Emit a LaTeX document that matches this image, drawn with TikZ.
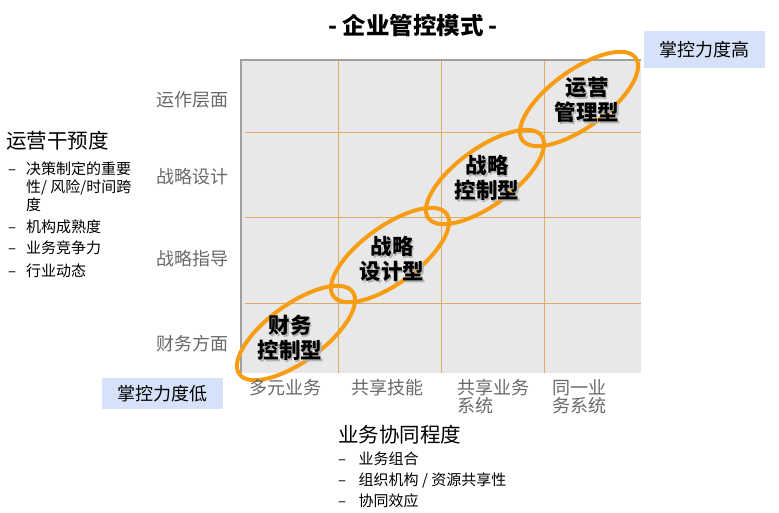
\documentclass[tikz,border=0pt]{standalone}
\usepackage{fontspec}
\setmainfont{Noto Sans CJK SC}
\usetikzlibrary{shapes.geometric, positioning}
\definecolor{ctrlorange}{RGB}{247,157,20}
\definecolor{gridline}{RGB}{218,172,105}
\definecolor{cellgray}{RGB}{232,232,232}
\definecolor{framegray}{RGB}{160,160,160}
\definecolor{labelgray}{RGB}{105,105,105}
\definecolor{tagblue}{RGB}{214,226,249}
\tikzset{phase/.style={draw=ctrlorange, ellipse, line width=4pt, minimum width=140pt, minimum height=57pt, inner sep=0pt, rotate=36},
         mode/.style={font=\fontsize{21.5}{25}\selectfont\bfseries, align=center, inner sep=0pt},
         rowlabel/.style={font=\fontsize{18}{20}\selectfont, text=labelgray, anchor=east, inner sep=0pt},
         collabel/.style={font=\fontsize{18}{18.5}\selectfont, text=labelgray, align=left, inner sep=0pt},
         tag/.style={fill=tagblue, minimum width=121pt, font=\fontsize{18}{20}\selectfont},
         heading/.style={font=\fontsize{20.5}{24}\selectfont, anchor=west, inner sep=0pt},
         bullets/.style={font=\fontsize{15}{16.5}\selectfont, anchor=north west, inner sep=0pt}}

\begin{document}
\begin{tikzpicture}[x=1pt, y=-1pt]
    \useasboundingbox (0,0) rectangle (779,513);
    \node[font=\fontsize{23.5}{26}\selectfont\bfseries] (title) at (413,25) {- 企业管控模式 -};

    % matrix background
    \node[fill=cellgray, minimum width=400pt, minimum height=313pt, inner sep=0pt, anchor=north west] (grid) at (241,60) {};
    \foreach \x in {338,441,544}
        \draw[gridline, line width=0.9pt] (\x,60) -- (\x,373);
    \foreach \y in {132,217,303}
        \draw[gridline, line width=0.9pt] (245,\y) -- (641,\y);
    \draw[framegray, line width=1.5pt] (grid.south west) -- (grid.north west) -- (grid.north east);

    \node[phase] (fin) at (296,333) {};
    \node[phase] (des) at (390,255) {};
    \node[phase] (ctl) at (485,177) {};
    \node[phase] (ops) at (579,99) {};
    % labels with a soft shadow
    \foreach \px/\py/\txt/\nm in {290/338/{财务\\控制型}/fintxt, 392/259/{战略\\设计型}/destxt,
                                  487/178/{战略\\控制型}/ctltxt, 587/100/{运营\\管理型}/opstxt} {
        \node[mode, text=black!30] at (\px+1.5,\py+1.5) {\txt};
        \node[mode] (\nm) at (\px,\py) {\txt};
    }

    \node[rowlabel] (r4) at (229,100) {运作层面};
    \node[rowlabel] (r3) at (229,177) {战略设计};
    \node[rowlabel] (r2) at (229,259) {战略指导};
    \node[rowlabel] (r1) at (229,344) {财务方面};

    \node[collabel] (c1) at (285,388) {多元业务};
    \node[collabel] (c2) at (387,388) {共享技能};
    \node[collabel, anchor=north west] (c3) at (457,379) {共享业务\\系统};
    \node[collabel, anchor=north west] (c4) at (552,379) {同一业\\务系统};

    \node[tag, minimum height=37pt] (high) at (704.5,49.5) {掌控力度高};
    \node[tag, minimum height=31pt] (low) at (162.5,393.5) {掌控力度低};

    \node[heading] (yaxis) at (6,141) {运营干预度};
    \node[bullets] (ylist) at (8,162) {\begin{tabular}{@{}l@{\hspace{10pt}}l@{}}
        –& 决策制定的重要\\
         & 性/ 风险/时间跨\\
         & 度\\[5pt]
        –& 机构成熟度\\[3.5pt]
        –& 业务竞争力\\[4.5pt]
        –& 行业动态
    \end{tabular}};

    \node[heading] (xaxis) at (338,435) {业务协同程度};
    \node[bullets, font=\fontsize{15}{21}\selectfont] (xlist) at (338,450) {\begin{tabular}{@{}l@{\hspace{12.5pt}}l@{}}
        –& 业务组合\\
        –& 组织机构 / 资源共享性\\
        –& 协同效应
    \end{tabular}};
\end{tikzpicture}
\end{document}
